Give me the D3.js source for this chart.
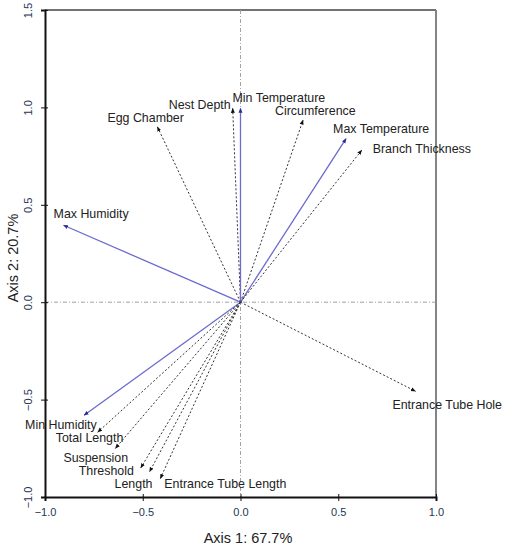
<!DOCTYPE html>
<html>
<head>
<meta charset="utf-8">
<script src="https://cdn.jsdelivr.net/npm/d3@7"></script>
<style>
  body { margin: 0; background: #fff; }
  text { font-family: "Liberation Sans", Arial, sans-serif; }
</style>
</head>
<body>
<div id="chart"></div>
<script>
// DATA: biplot loadings (axis 1, axis 2)
const variables = ["Max Humidity", "Egg Chamber", "Nest Depth", "Min Temperature", "Circumference",
  "Max Temperature", "Branch Thickness", "Entrance Tube Hole", "Min Humidity", "Total Length",
  "Suspension", "Threshold", "Length", "Entrance Tube Length"];
const axis1 = [-0.905, -0.425, -0.04, 0.0, 0.32, 0.54, 0.62, 0.895, -0.80, -0.73, -0.64, -0.51, -0.465, -0.41];
const axis2 = [0.395, 0.90, 0.995, 0.995, 0.935, 0.84, 0.78, -0.457, -0.58, -0.667, -0.75, -0.85, -0.87, -0.905];
// environmental (solid blue) vs nest (dotted) variables
const isEnv = [true, false, false, true, false, true, false, false, true, false, false, false, false, false];
const xTicks = [-1.0, -0.5, 0.0, 0.5, 1.0];
const yTicks = [-1.0, -0.5, 0.0, 0.5, 1.0, 1.5];

// label offsets in pixels from arrow tip [dx, dy, anchor]
const labelPos = [[-10, -12, "start"], [-50, -9, "start"], [-2, -4, "end"], [-8, -11, "start"],
  [-28, -9, "start"], [-13, -10, "start"], [11, -2, "start"], [-23, 13, "start"],
  [-59, 9, "start"], [-42, 6, "start"], [-52, 9, "start"], [-62, 3, "start"],
  [-35, 12, "start"], [4, 5, "start"]];

const width = 508, height = 550;
const margin = {top: 10, right: 72, bottom: 53, left: 45};

const svg = d3.select("#chart").append("svg")
    .attr("width", width)
    .attr("height", height);

const x = d3.scaleLinear().domain([-1, 1]).range([margin.left, width - margin.right]);
const y = d3.scaleLinear().domain([-1, 1.5]).range([height - margin.bottom, margin.top]);

// arrow heads
const defs = svg.append("defs");
[["head-env", "#2a2a90"], ["head-nest", "#111"]].forEach(([id, c]) => {
    defs.append("marker")
        .attr("id", id)
        .attr("viewBox", "0 0 10 10")
        .attr("refX", 9).attr("refY", 5)
        .attr("markerWidth", 5).attr("markerHeight", 5)
        .attr("markerUnits", "userSpaceOnUse")
        .attr("orient", "auto")
      .append("path")
        .attr("d", "M0,1 L10,5 L0,9 Z")
        .attr("fill", c);
});

// frame (top + right lighter)
svg.append("line")
    .attr("x1", x(-1)).attr("x2", x(1)).attr("y1", y(1.5)).attr("y2", y(1.5))
    .attr("stroke", "#444").attr("stroke-width", 1.5);
svg.append("line")
    .attr("x1", x(1)).attr("x2", x(1)).attr("y1", y(1.5)).attr("y2", y(-1))
    .attr("stroke", "#777").attr("stroke-width", 1.8);

// zero reference lines
svg.append("line")
    .attr("x1", x(-1)).attr("x2", x(1)).attr("y1", y(0)).attr("y2", y(0))
    .attr("stroke", "#999").attr("stroke-width", 0.9).attr("stroke-dasharray", "4,2,1,2");
svg.append("line")
    .attr("x1", x(0)).attr("x2", x(0)).attr("y1", y(1.5)).attr("y2", y(-1))
    .attr("stroke", "#999").attr("stroke-width", 0.9).attr("stroke-dasharray", "4,2,1,2");

// axes
const xAxis = svg.append("g")
    .attr("transform", `translate(0,${y(-1)})`)
    .call(d3.axisBottom(x).tickValues(xTicks).tickFormat(d3.format(".1f")).tickSize(4).tickPadding(5));
const yAxis = svg.append("g")
    .attr("transform", `translate(${x(-1)},0)`)
    .call(d3.axisLeft(y).tickValues(yTicks).tickFormat(d3.format(".1f")).tickSize(4).tickPadding(8));

[xAxis, yAxis].forEach(g => {
    g.select(".domain").attr("stroke", "#111").attr("stroke-width", 2);
    g.selectAll(".tick line").attr("stroke", "#111").attr("y1", g === xAxis ? -3 : null).attr("x1", g === yAxis ? 3 : null);
    g.selectAll(".tick text").attr("fill", "#253552").style("font-size", "11px")
        .style("font-family", "Liberation Sans, Arial, sans-serif");
});
// rotate y tick labels
yAxis.selectAll(".tick text")
    .attr("text-anchor", "middle")
    .attr("x", null).attr("dy", null)
    .attr("transform", "translate(-13,0) rotate(-90)")
    .attr("y", 0);
xAxis.selectAll(".tick text").attr("dy", "0.9em");

// arrows
const rows = variables.map((v, i) => ({name: v, a1: axis1[i], a2: axis2[i], env: isEnv[i], lp: labelPos[i]}));

svg.append("g").selectAll("line")
    .data(rows)
    .join("line")
    .attr("x1", x(0)).attr("y1", y(0))
    .attr("x2", d => x(d.a1)).attr("y2", d => y(d.a2))
    .attr("stroke", d => d.env ? "#6b6bd0" : "#333")
    .attr("stroke-width", d => d.env ? 1.3 : 1)
    .attr("stroke-dasharray", d => d.env ? null : "2,2")
    .attr("marker-end", d => d.env ? "url(#head-env)" : "url(#head-nest)");

svg.append("g").selectAll("text")
    .data(rows)
    .join("text")
    .attr("x", d => x(d.a1) + d.lp[0])
    .attr("y", d => y(d.a2) + d.lp[1])
    .attr("dy", "0.35em")
    .attr("text-anchor", d => d.lp[2])
    .attr("fill", "#222")
    .style("font-size", "12.4px")
    .text(d => d.name);

// axis titles
svg.append("text")
    .attr("x", 248).attr("y", 538).attr("dy", "0.35em")
    .attr("text-anchor", "middle")
    .attr("fill", "#222")
    .style("font-size", "14.5px")
    .text("Axis 1: 67.7%");
svg.append("text")
    .attr("transform", "translate(13,258) rotate(-90)")
    .attr("dy", "0.35em")
    .attr("text-anchor", "middle")
    .attr("fill", "#222")
    .style("font-size", "14.5px")
    .text("Axis 2: 20.7%");
</script>
</body>
</html>
